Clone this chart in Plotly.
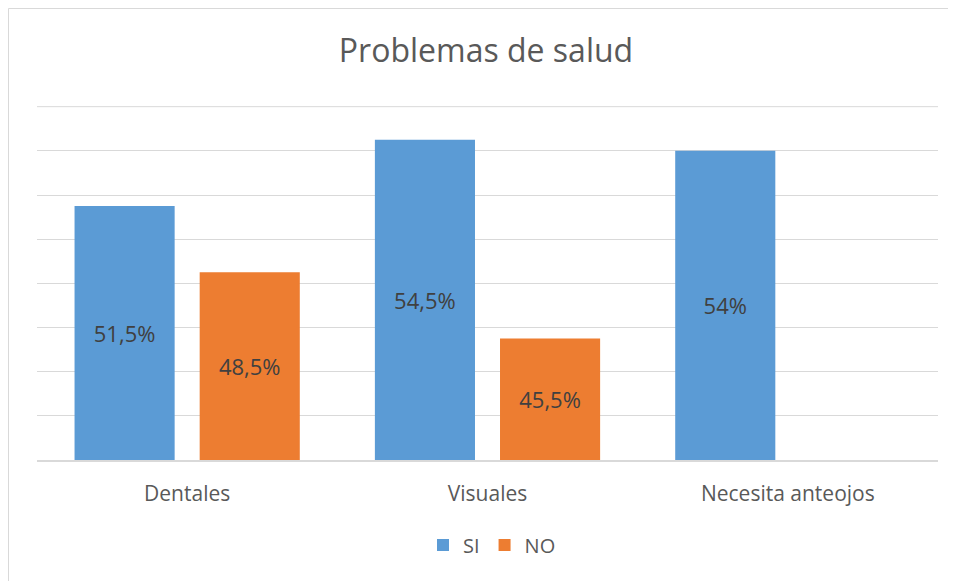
import plotly.graph_objects as go

categorias = ["Dentales", "Visuales", "Necesita anteojos"]
si_valores = [51.5, 54.5, 54.0]
no_valores = [48.5, 45.5, None]
si_textos = ["51,5%", "54,5%", "54%"]
no_textos = ["48,5%", "45,5%", ""]

eje_min = 40  # el eje vertical del original empieza en 40
eje_max = 56
fuente = "Open Sans"
gris = "#595959"


def alturas(valores):
    return [None if v is None else v - eje_min for v in valores]


fig = go.Figure()

fig.add_trace(go.Bar(x=categorias, y=alturas(si_valores), base=eje_min, name="SI",
                     text=si_textos, customdata=si_valores,
                     marker=dict(color="#5B9BD5", line=dict(width=0)),
                     textposition="inside", insidetextanchor="middle",
                     textfont=dict(color="#404040", size=22, family=fuente),
                     hovertemplate="%{x}: %{customdata}%<extra>SI</extra>"))

fig.add_trace(go.Bar(x=categorias, y=alturas(no_valores), base=eje_min, name="NO",
                     text=no_textos, customdata=no_valores,
                     marker=dict(color="#ED7D31", line=dict(width=0)),
                     textposition="inside", insidetextanchor="middle",
                     textfont=dict(color="#404040", size=22, family=fuente),
                     hovertemplate="%{x}: %{customdata}%<extra>NO</extra>"))

# la pagina tiene 8px de margen en el body, se compensa aqui
fig.update_layout(
    width=956, height=581,
    paper_bgcolor="white", plot_bgcolor="white",
    margin=dict(l=29, r=26, t=98, b=129),
    barmode="group", bargap=0.1667, bargroupgap=0.2,
    font=dict(family=fuente, color=gris),
    title=dict(text="Problemas de salud", x=0.5, xanchor="center",
               y=1 - 43 / 581, yanchor="middle",
               font=dict(size=32, color=gris, family=fuente)),
    legend=dict(orientation="h", x=0.505, xanchor="center", y=-0.24, yanchor="middle",
                font=dict(size=20, color=gris), itemwidth=30,
                traceorder="normal"),
    uniformtext=dict(mode=False),
)

fig.update_xaxes(showline=True, linecolor="#D9D9D9", linewidth=1.5, ticks="",
                 tickfont=dict(size=21, color=gris), ticklabelstandoff=14,
                 showgrid=False)
fig.update_yaxes(range=[eje_min, eje_max + 0.03], dtick=2, showticklabels=False,
                 showline=False, gridcolor="#D9D9D9", gridwidth=1, zeroline=False)

# linea de cuadricula superior (plotly no la dibuja en el borde)
fig.add_hline(y=eje_max, line=dict(color="#D9D9D9", width=1), layer="below")

# marco del grafico
fig.add_shape(type="rect", xref="paper", yref="paper",
              x0=-28.5 / 901, x1=1.05, y0=-0.5, y1=1 + 97.5 / 354,
              line=dict(color="#D9D9D9", width=1), layer="below")

fig.write_html("out.html")
